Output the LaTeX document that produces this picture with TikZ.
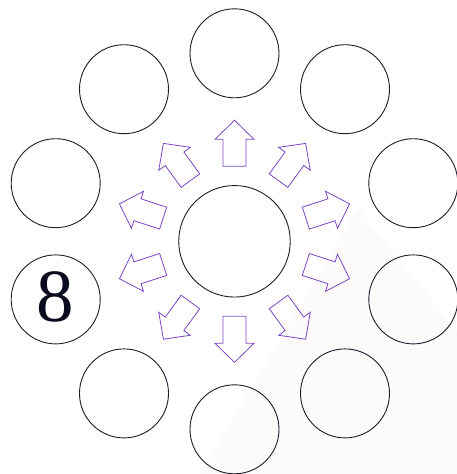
\documentclass[tikz,border=0pt]{standalone}
\usepackage{fontspec}
\setmainfont{Liberation Serif}
\definecolor{circ}{RGB}{30,28,45}
\definecolor{arr}{RGB}{125,70,195}
\definecolor{wm}{RGB}{253,250,250}
\definecolor{digit}{RGB}{10,10,30}
\begin{document}
\begin{tikzpicture}[x=1pt,y=-1pt,
  ring/.style={circle, draw=circ, line width=0.9pt, minimum size=89pt, inner sep=0pt},
  blockarrow/.style={draw=arr, line width=0.8pt, line join=miter}]
\useasboundingbox (0,0) rectangle (457,474);
\fill[wm] (358,208) -- (457,330) -- (457,474) -- (200,474) -- cycle;
\node[ring, minimum size=111.5pt] (c) at (234.5,241.3) {};
\foreach \i in {0,...,9} {
  \pgfmathsetmacro\a{90+36*\i}
  \node[ring] (o\i) at ([shift={(\a:188)}]c) {};
  \draw[blockarrow, shift={(c)}, rotate=\a]
    (75,-11.5) -- (102,-11.5) -- (102,-19.5) -- (121,0) -- (102,19.5) -- (102,11.5) -- (75,11.5) -- cycle;
}
\node[text=digit, font=\fontsize{75}{75}\selectfont] (eight) at ([yshift=2pt]o2.center) {8};
\end{tikzpicture}
\end{document}
